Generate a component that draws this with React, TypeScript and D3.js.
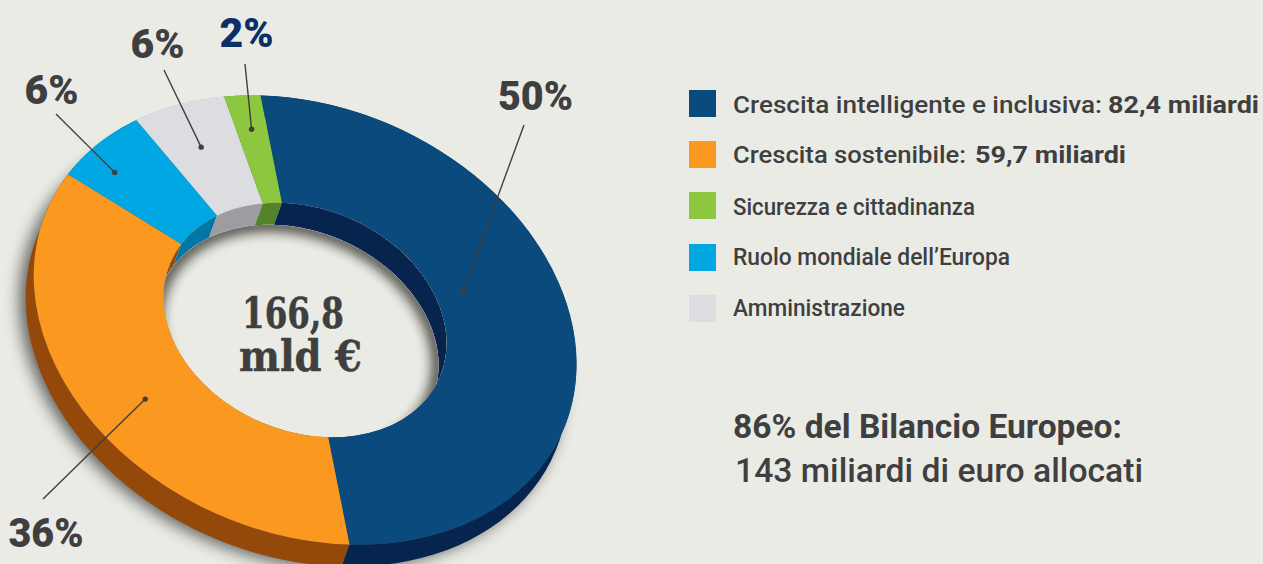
import React from "react";
import * as d3 from "d3";

// ---- data ----
const categories = [
  "Crescita intelligente e inclusiva",
  "Crescita sostenibile",
  "Sicurezza e cittadinanza",
  "Ruolo mondiale dell\u2019Europa",
  "Amministrazione",
];
const legendAmounts = ["82,4 miliardi", "59,7 miliardi", "", "", ""];
const shares = [50, 35.7, 2.2, 6.25, 5.85];
const percentLabels = ["50%", "36%", "2%", "6%", "6%"];
const ringOrder = [0, 1, 3, 4, 2];
const topColors = ["#0a4a7d", "#fa981f", "#8dc63f", "#00a7e3", "#dcdde0"];
const wallColors = ["#07244e", "#94490a", "#55832b", "#0077a5", "#9c9da0"];
const labelColors = ["#3f3f3f", "#3f3f3f", "#0b2f66", "#3f3f3f", "#3f3f3f"];
const centerLines = ["166,8", "mld \u20ac"];
const noteLines = ["86% del Bilancio Europeo:", "143 miliardi di euro allocati"];

// ---- layout ----
const W = 1263, H = 564, BG = "#ebebe6", INK = "#3f3f3f";
const cx = 305, cy = 320, rx = 280.5, ry = 213, tilt = 23, holeRatio = 0.522;
const depthX = -8, depthY = 22;
const startDeg = -27.3;
const legendX = 689, legendTextX = 733;
const legendY = [90, 141, 192, 244, 295];
const legendBase = [113, 163, 215, 265, 316];
const legendWidths = [369, 233, 242, 277, 172];
const amountX = [1108, 975];
const amountWidth = 151;
const leaderFrac = [0.427, 0.47, 0.5, 0.354, 0.476];
const leaderRadius = [0.63, 0.758, 0.85, 0.879, 0.805];
const leaderEnd = [[524, 125], [43, 499], [245, 64], [56, 114], [164, 70]];
const labelPos = [[535.5, 110], [46, 547], [246.5, 47], [51.5, 104], [157.5, 58]];
const labelWidths = [75, 75, 54, 54, 54];

const rad = (d: number) => (d * Math.PI) / 180;
const cosT = Math.cos(rad(tilt)), sinT = Math.sin(rad(tilt));
const project = (angle: number, ratio: number): [number, number] => {
  const t = angle - Math.PI / 2;
  const u = rx * ratio * Math.cos(t), v = ry * ratio * Math.sin(t);
  return [cx + cosT * u - sinT * v, cy + sinT * u + cosT * v];
};

const pie = d3.pie<number>()
  .value((i) => shares[i])
  .sort(null)
  .startAngle(rad(startDeg))
  .endAngle(rad(startDeg + 360));
const slices = pie(ringOrder);
const arc = d3.arc<d3.PieArcDatum<number>>().innerRadius(rx * holeRatio).outerRadius(rx);
const line = d3.line();

const wall = (s: d3.PieArcDatum<number>, ratio: number) => {
  const steps = d3.range(61).map((k) => s.startAngle + ((s.endAngle - s.startAngle) * k) / 60);
  const front = steps.map((a) => project(a, ratio));
  const back = front.map(([x, y]) => [x + depthX, y + depthY] as [number, number]).reverse();
  return line([...front, ...back]) + "Z";
};

const diskTransform = (dx = 0, dy = 0) => `translate(${cx + dx},${cy + dy}) rotate(${tilt})`;

export default function App() {
  const holeRx = rx * holeRatio, holeRy = ry * holeRatio;
  return (
    <svg width={W} height={H} viewBox={`0 0 ${W} ${H}`} style={{ position: "absolute", left: 0, top: 0, display: "block" }}>
      <defs>
        <filter id="soft" x="-20%" y="-20%" width="140%" height="140%">
          <feGaussianBlur stdDeviation="8" />
        </filter>
        <filter id="softIn" x="-20%" y="-20%" width="140%" height="140%">
          <feGaussianBlur stdDeviation="6" />
        </filter>
        <clipPath id="hole">
          <ellipse rx={holeRx} ry={holeRy} transform={diskTransform()} />
        </clipPath>
        <clipPath id="floor">
          <ellipse rx={holeRx} ry={holeRy} transform={diskTransform(depthX, depthY)} />
        </clipPath>
      </defs>
      <rect width={W} height={H} fill={BG} />

      <ellipse rx={rx} ry={ry} transform={diskTransform(-14, 24)} fill="#000" opacity={0.6} filter="url(#soft)" />
      <ellipse rx={holeRx} ry={holeRy} transform={diskTransform()} fill={BG} />

      {slices.map((s) => (
        <path key={s.data} d={wall(s, 1)} fill={wallColors[s.data]} />
      ))}

      <g clipPath="url(#hole)">
        {slices.map((s) => (
          <path key={s.data} d={wall(s, holeRatio)} fill={wallColors[s.data]} />
        ))}
        <ellipse rx={holeRx} ry={holeRy} transform={diskTransform(depthX, depthY)} fill={BG} />
        <g clipPath="url(#floor)">
          <ellipse
            rx={holeRx} ry={holeRy}
            transform={diskTransform(depthX, depthY)}
            fill="none" stroke="#1c1a14" strokeWidth={14} opacity={0.75}
            filter="url(#softIn)"
          />
        </g>
      </g>

      <g transform={`${diskTransform()} scale(1,${ry / rx})`}>
        {slices.map((s) => (
          <path key={s.data} d={arc(s) as string} fill={topColors[s.data]} />
        ))}
      </g>

      {slices.map((s) => {
        const i = s.data;
        const a = s.startAngle + (s.endAngle - s.startAngle) * leaderFrac[i];
        const [x, y] = project(a, leaderRadius[i]);
        return (
          <g key={i}>
            <line x1={leaderEnd[i][0]} y1={leaderEnd[i][1]} x2={x} y2={y} stroke={INK} strokeWidth={1.4} />
            <circle cx={x} cy={y} r={2.7} fill={INK} />
            <text
              x={labelPos[i][0]} y={labelPos[i][1]} textAnchor="middle"
              fontFamily="Roboto, sans-serif" fontWeight={900} fontSize={41}
              fill={labelColors[i]}
              textLength={labelWidths[i]} lengthAdjust="spacingAndGlyphs"
            >
              {percentLabels[i]}
            </text>
          </g>
        );
      })}

      <g fontFamily="'DejaVu Serif', serif" fontWeight={700} fill={INK} stroke={INK} strokeWidth={0.5} textAnchor="middle">
        <text x={293} y={328} fontSize={42} textLength={102} lengthAdjust="spacingAndGlyphs">{centerLines[0]}</text>
        <text x={300.5} y={371} fontSize={42} textLength={123} lengthAdjust="spacingAndGlyphs">{centerLines[1]}</text>
      </g>

      {categories.map((c, i) => (
        <g key={c}>
          <rect x={legendX} y={legendY[i]} width={27} height={27} fill={topColors[i]} />
          <text
            x={legendTextX} y={legendBase[i]}
            fontFamily="Roboto, sans-serif" fontWeight={500} fontSize={24} fill={INK}
            textLength={legendWidths[i]} lengthAdjust="spacingAndGlyphs"
          >
            {legendAmounts[i] ? c + ":" : c}
          </text>
          {legendAmounts[i] && (
            <text
              x={amountX[i]} y={legendBase[i]}
              fontFamily="Roboto, sans-serif" fontWeight={700} fontSize={24} fill={INK}
              textLength={amountWidth} lengthAdjust="spacingAndGlyphs"
            >
              {legendAmounts[i]}
            </text>
          )}
        </g>
      ))}

      <g fontFamily="Roboto, sans-serif" fontSize={33} fill={INK}>
        <text x={733} y={438} fontWeight={700} textLength={389} lengthAdjust="spacingAndGlyphs">{noteLines[0]}</text>
        <text x={735} y={482} fontWeight={500} textLength={408} lengthAdjust="spacingAndGlyphs">{noteLines[1]}</text>
      </g>
    </svg>
  );
}
